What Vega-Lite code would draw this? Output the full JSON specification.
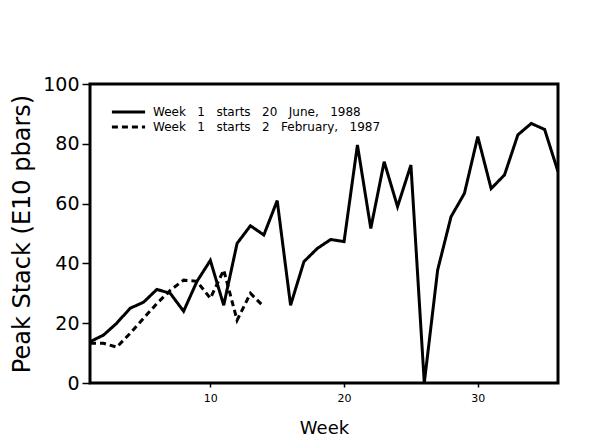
{
  "$schema": "https://vega.github.io/schema/vega-lite/v6.json",
  "width": 468,
  "height": 299,
  "autosize": {"type": "none"},
  "padding": {"left": 90, "top": 84, "right": 41, "bottom": 59},
  "background": "white",
  "config": {
    "font": "DejaVu Sans",
    "view": {"stroke": "black", "strokeWidth": 3},
    "axis": {"grid": false, "domain": false, "tickColor": "black", "labelColor": "black", "titleColor": "black", "titleFontWeight": "normal"}
  },
  "data": {
    "values": [
      {"week": 1, "value": 13.8, "series": "1988"},
      {"week": 2, "value": 16, "series": "1988"},
      {"week": 3, "value": 20, "series": "1988"},
      {"week": 4, "value": 25, "series": "1988"},
      {"week": 5, "value": 27, "series": "1988"},
      {"week": 6, "value": 31.3, "series": "1988"},
      {"week": 7, "value": 30, "series": "1988"},
      {"week": 8, "value": 24, "series": "1988"},
      {"week": 9, "value": 34, "series": "1988"},
      {"week": 10, "value": 41, "series": "1988"},
      {"week": 11, "value": 26, "series": "1988"},
      {"week": 12, "value": 46.7, "series": "1988"},
      {"week": 13, "value": 52.6, "series": "1988"},
      {"week": 14, "value": 49.5, "series": "1988"},
      {"week": 15, "value": 61, "series": "1988"},
      {"week": 16, "value": 26, "series": "1988"},
      {"week": 17, "value": 40.6, "series": "1988"},
      {"week": 18, "value": 45, "series": "1988"},
      {"week": 19, "value": 48, "series": "1988"},
      {"week": 20, "value": 47.3, "series": "1988"},
      {"week": 21, "value": 79.6, "series": "1988"},
      {"week": 22, "value": 51.7, "series": "1988"},
      {"week": 23, "value": 74, "series": "1988"},
      {"week": 24, "value": 59, "series": "1988"},
      {"week": 25, "value": 72.9, "series": "1988"},
      {"week": 26, "value": 0, "series": "1988"},
      {"week": 27, "value": 37.8, "series": "1988"},
      {"week": 28, "value": 55.6, "series": "1988"},
      {"week": 29, "value": 63.4, "series": "1988"},
      {"week": 30, "value": 82.4, "series": "1988"},
      {"week": 31, "value": 65, "series": "1988"},
      {"week": 32, "value": 69.6, "series": "1988"},
      {"week": 33, "value": 83, "series": "1988"},
      {"week": 34, "value": 86.8, "series": "1988"},
      {"week": 35, "value": 84.8, "series": "1988"},
      {"week": 36, "value": 70.7, "series": "1988"},
      {"week": 1, "value": 13.3, "series": "1987"},
      {"week": 2, "value": 13.3, "series": "1987"},
      {"week": 3, "value": 12, "series": "1987"},
      {"week": 4, "value": 16.6, "series": "1987"},
      {"week": 5, "value": 21.6, "series": "1987"},
      {"week": 6, "value": 26.6, "series": "1987"},
      {"week": 7, "value": 31, "series": "1987"},
      {"week": 8, "value": 34.4, "series": "1987"},
      {"week": 9, "value": 34, "series": "1987"},
      {"week": 10, "value": 28.3, "series": "1987"},
      {"week": 11, "value": 37.8, "series": "1987"},
      {"week": 12, "value": 21, "series": "1987"},
      {"week": 13, "value": 30, "series": "1987"},
      {"week": 14, "value": 25.5, "series": "1987"}
    ]
  },
  "mark": {"type": "line", "color": "black", "strokeWidth": 3, "clip": true},
  "encoding": {
    "x": {
      "field": "week", "type": "quantitative",
      "scale": {"domain": [1, 36], "nice": false, "zero": false},
      "axis": {"values": [10, 20, 30], "tickSize": 4, "tickWidth": 1.5, "labelFontSize": 11, "labelPadding": 5, "title": "Week", "titleFontSize": 18, "titlePadding": 16}
    },
    "y": {
      "field": "value", "type": "quantitative",
      "scale": {"domain": [0, 100], "nice": false},
      "axis": {"values": [0, 20, 40, 60, 80, 100], "tickSize": 8, "tickWidth": 1.5, "labelFontSize": 19, "labelPadding": 3, "title": "Peak Stack (E10 pbars)", "titleFontSize": 24, "titlePadding": 8}
    },
    "strokeDash": {
      "field": "series", "type": "nominal",
      "scale": {"domain": ["1988", "1987"], "range": [[1, 0], [6, 4]]},
      "legend": {
        "orient": "none", "legendX": 20, "legendY": 21, "title": null,
        "symbolType": "stroke", "symbolSize": 1100, "symbolStrokeWidth": 3, "symbolStrokeColor": "black",
        "labelFontSize": 12, "labelColor": "black", "labelOffset": 6, "rowPadding": 1, "clipHeight": 14, "labelLimit": 400,
        "labelExpr": "datum.label == '1988' ? 'Week\u00a0\u00a0\u00a01\u00a0\u00a0\u00a0starts\u00a0\u00a0\u00a020\u00a0\u00a0\u00a0June,\u00a0\u00a0\u00a01988' : 'Week\u00a0\u00a0\u00a01\u00a0\u00a0\u00a0starts\u00a0\u00a0\u00a02\u00a0\u00a0\u00a0February,\u00a0\u00a0\u00a01987'"
      }
    }
  }
}
